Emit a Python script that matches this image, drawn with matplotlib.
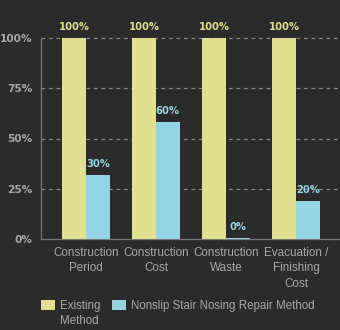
import numpy as np
import matplotlib
matplotlib.use('Agg')
import matplotlib.pyplot as plt
from matplotlib.patches import Rectangle

categories = ['Construction\nPeriod', 'Construction\nCost', 'Construction\nWaste', 'Evacuation /\nFinishing\nCost']
existing = [100, 100, 100, 100]
nonslip = [32, 58, 0.5, 19]
existing_labels = ['100%', '100%', '100%', '100%']
nonslip_labels = ['30%', '60%', '0%', '20%']
yticks = [0, 25, 50, 75, 100]
ytick_labels = ['0%', '25%', '50%', '75%', '100%']
series_names = ['Existing\nMethod', 'Nonslip Stair Nosing Repair Method']

bg = '#2b2b2b'
yellow = '#e0e08e'
blue = '#93d5e3'
grey = '#a8a8a8'
W, H = 340, 330

fig = plt.figure(figsize=(3.4, 3.3), dpi=100, facecolor=bg)
ax = fig.add_axes([41/W, 91/H, 299/W, 201/H], facecolor=bg)

x = np.arange(len(categories))
w = 0.336
off = 0.168
ax.bar(x - off, existing, w, color=yellow, zorder=3)
ax.bar(x + off, nonslip, w, color=blue, zorder=3)

for i in range(len(categories)):
    ax.text(x[i] - off, existing[i] + 3, existing_labels[i], ha='center', va='bottom',
            color=yellow, fontsize=7.2, fontweight='bold')
    ax.text(x[i] + off, nonslip[i] + 3, nonslip_labels[i], ha='center', va='bottom',
            color=blue, fontsize=7.2, fontweight='bold')

ax.set_xlim(-45/70, 254/70)
ax.set_ylim(0, 100)
ax.set_yticks(yticks)
ax.set_yticklabels(ytick_labels, fontsize=7.6, fontweight='bold', color=grey)
ax.set_xticks(x)
ax.set_xticklabels(categories, fontsize=8.4, color=grey, family='Liberation Sans', linespacing=1.35)
ax.tick_params(axis='both', length=0)
ax.tick_params(axis='y', pad=6)
ax.tick_params(axis='x', pad=6)

for y in yticks[1:]:
    ax.axhline(y, color='#8a8a8a', lw=0.9, ls=(0, (3, 3)), zorder=1, clip_on=False)

for s in ['top', 'right']:
    ax.spines[s].set_visible(False)
ax.spines['left'].set_color('#777777')
ax.spines['bottom'].set_color('#777777')
ax.spines['left'].set_linewidth(0.9)
ax.spines['bottom'].set_linewidth(0.9)

# legend drawn by hand so the swatch lines up with the first text line
for px, col, name in [(41, yellow, series_names[0]), (112, blue, series_names[1])]:
    fig.patches.append(Rectangle((px/W, 1 - 310/H), 14/W, 10/H, facecolor=col,
                                 transform=fig.transFigure, figure=fig))
    fig.text((px + 19)/W, 1 - 300/H, name, ha='left', va='top', color=grey,
             fontsize=8.3, family='Liberation Sans', linespacing=1.35)

fig.savefig('out.png', dpi=100, facecolor=bg)
